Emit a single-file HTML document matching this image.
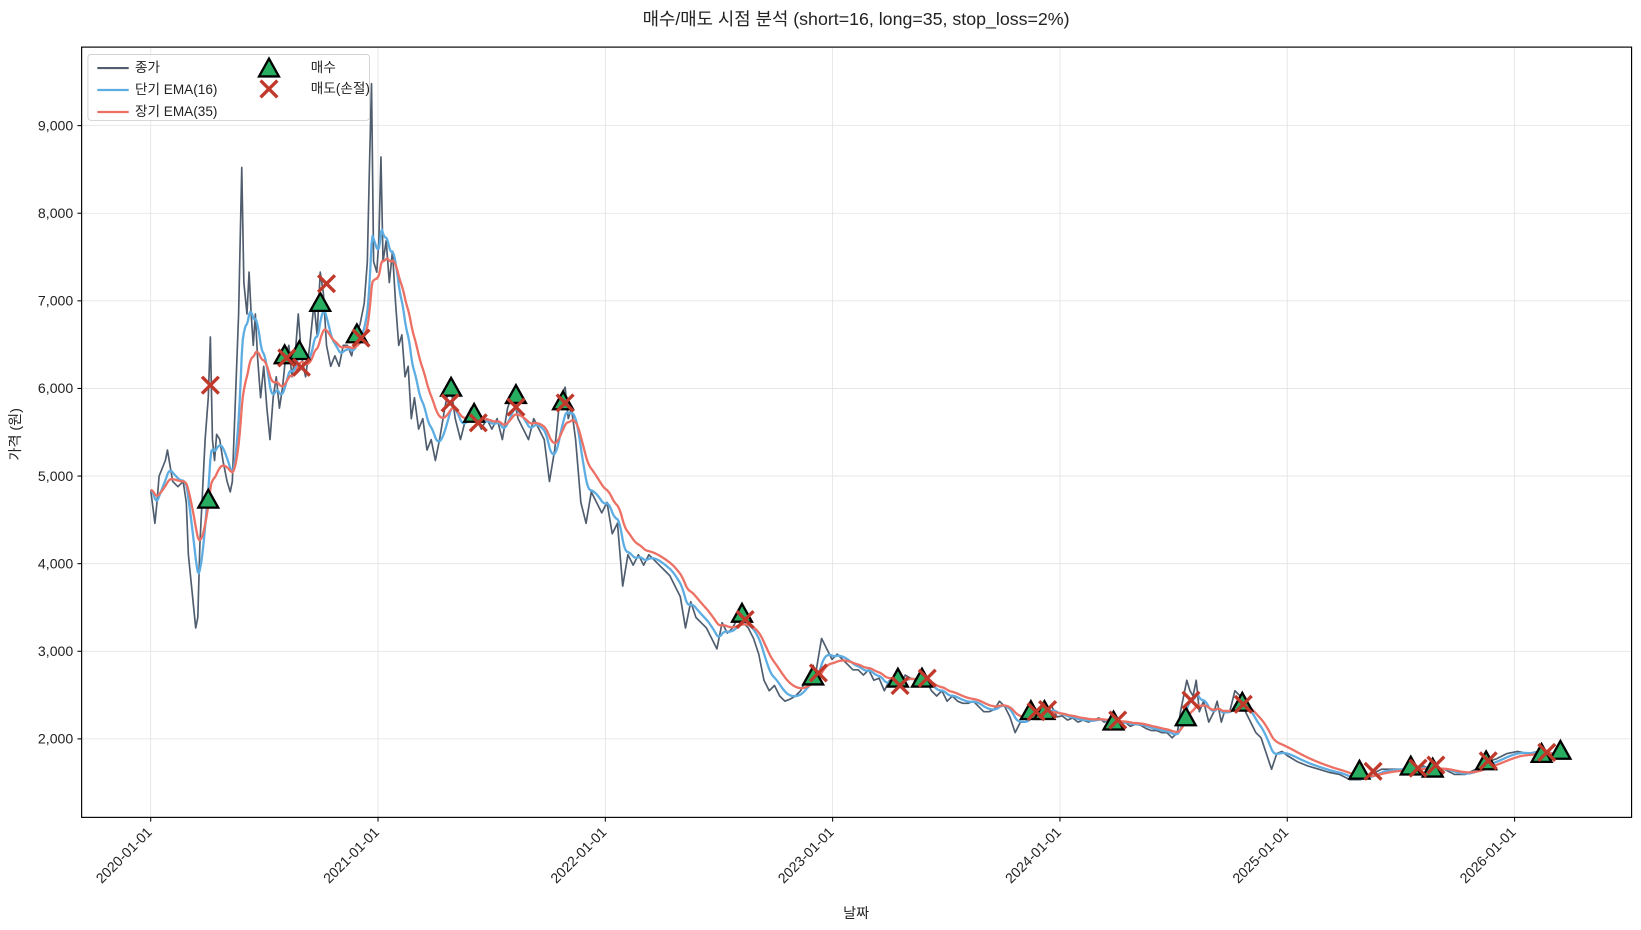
<!DOCTYPE html>
<html><head><meta charset="utf-8"><style>
html,body{margin:0;padding:0;background:#fff;}
svg{display:block;font-family:"Liberation Sans","Noto Sans CJK KR",sans-serif;}
</style></head><body>
<svg id="s" width="1641" height="930" viewBox="0 0 1568 888.6" xmlns="http://www.w3.org/2000/svg">
<rect width="1568" height="888.6" fill="#fff"/>
<g id="grid" stroke="#e3e3e3" stroke-width="0.8"></g>
<g id="series" fill="none" stroke-linejoin="round"></g>
<g id="marks"></g>
<rect x="78" y="45" width="1481" height="736" fill="none" stroke="#000" stroke-width="1.1"/>
<g id="ticks" font-size="13.5" fill="#222"></g>
<text x="818" y="24" text-anchor="middle" font-size="17" fill="#222">매수/매도 시점 분석 (short=16, long=35, stop_loss=2%)</text>
<text x="818" y="877" text-anchor="middle" font-size="13.5" fill="#222">날짜</text>
<text transform="translate(19,415) rotate(-90)" text-anchor="middle" font-size="13.5" fill="#222">가격 (원)</text>
<g>
<rect x="84" y="52" width="269" height="63" rx="3" fill="#fff" fill-opacity="0.85" stroke="#ccc" stroke-width="0.8"/>
<line x1="93" y1="65" x2="123" y2="65" stroke="#4f5d6e" stroke-width="2"/>
<text x="129" y="69" font-size="13" fill="#222">종가</text>
<line x1="93" y1="86" x2="123" y2="86" stroke="#5dade2" stroke-width="2.2"/>
<text x="129" y="90" font-size="13" fill="#222">단기 EMA(16)</text>
<line x1="93" y1="107" x2="123" y2="107" stroke="#ec7063" stroke-width="2.2"/>
<text x="129" y="111" font-size="13" fill="#222">장기 EMA(35)</text>
<text x="297" y="69" font-size="13" fill="#222">매수</text>
<text x="297" y="89" font-size="13" fill="#222">매도(손절)</text>
</g>
<g id="legm"></g>
</svg>
<script>
var NS="http://www.w3.org/2000/svg";
function el(p,t,a){var e=document.createElementNS(NS,t);for(var k in a)e.setAttribute(k,a[k]);if(p)document.getElementById(p).appendChild(e);return e;}
for(var v=2000;v<=9000;v+=1000){var y=706-(v-2000)*0.08371;
el("grid","line",{x1:78,x2:1559,y1:y,y2:y});
el("ticks","line",{x1:74,x2:78,y1:y,y2:y,stroke:"#000"});
var t=el("ticks","text",{x:70,y:y+4.5,"text-anchor":"end"});t.textContent=(v/1000)+",000";}
for(var i=0;i<7;i++){var x=144+i*217.2;
el("grid","line",{x1:x,x2:x,y1:45,y2:781});
el("ticks","line",{x1:x,x2:x,y1:781,y2:785,stroke:"#000"});
var t=el("ticks","text",{x:0,y:0,"text-anchor":"end",transform:"translate("+(x+2)+",796) rotate(-45)"});t.textContent=(2020+i)+"-01-01";}
var P=[144,468,148,500,150,480,152,455,158,440,160,430,165,460,170,465,175,460,178,480,180,530,183,560,185,580,187,600,189,590,191,520,193,480,196,420,199,380,201,322,203,420,205,440,207,415,210,420,213,440,217,460,220,470,222,460,225,380,228,300,231,160,233,270,236,300,238,260,240,300,242,330,244,300,246,340,249,380,252,350,255,390,258,420,261,380,264,360,267,390,270,370,273,340,276,330,279,360,282,340,285,300,288,340,292,360,296,330,300,290,303,320,306,260,309,280,312,330,316,350,320,340,324,350,328,330,332,330,336,340,340,320,344,310,348,290,351,250,353,160,355,80,357,250,360,260,362,230,364,150,366,250,369,230,372,270,375,240,378,290,381,330,384,320,387,360,390,350,393,400,396,380,400,410,404,400,408,430,412,420,416,440,420,420,425,390,430,365,435,400,440,420,445,400,450,390,455,400,460,410,465,400,470,410,475,400,480,420,485,390,490,375,495,400,500,410,505,420,510,400,515,410,520,420,525,460,530,430,535,380,540,370,543,400,546,390,550,420,555,480,560,500,565,470,570,480,575,490,580,480,585,510,590,500,595,560,600,530,605,540,610,530,615,540,620,530,625,535,630,540,635,545,640,550,645,560,650,570,655,600,660,575,665,590,670,595,675,600,680,610,685,620,690,595,695,605,700,600,705,590,710,595,715,600,720,610,725,625,730,650,735,660,740,655,745,665,750,670,755,668,760,665,765,660,770,650,775,645,780,640,785,610,790,620,795,630,800,625,805,630,810,635,815,640,820,640,825,645,830,640,835,650,840,648,845,660,850,650,855,650,860,655,865,645,870,648,875,650,880,655,885,650,890,660,895,665,900,660,905,670,910,665,915,670,920,672,925,672,930,670,935,675,940,680,945,680,950,678,955,670,960,675,965,685,970,700,975,690,980,690,985,680,990,678,995,682,1000,680,1005,675,1010,685,1015,684,1020,688,1025,686,1030,690,1035,688,1040,690,1045,688,1050,686,1055,690,1060,688,1065,690,1070,692,1075,690,1080,694,1085,692,1090,693,1095,696,1100,698,1105,698,1110,700,1115,700,1120,705,1125,700,1128,680,1130,670,1134,650,1137,660,1140,665,1143,650,1146,680,1150,670,1155,690,1160,680,1163,670,1167,690,1170,680,1175,680,1180,660,1185,665,1190,680,1195,690,1200,700,1205,705,1210,720,1215,735,1220,720,1225,718,1230,722,1235,725,1240,728,1245,730,1250,732,1260,735,1270,738,1280,740,1290,745,1300,745,1310,740,1320,735,1330,735,1340,735,1350,735,1360,732,1370,735,1380,735,1390,740,1400,740,1410,735,1420,728,1430,725,1440,720,1450,718,1460,720,1470,718,1480,720,1490,722];
var xs=[],ys=[];for(var i=0;i<P.length;i+=2){xs.push(P[i]);ys.push(P[i+1]);}
var rx=[],ry=[];for(var x=144;x<=1490;x+=1){var j=0;while(j<xs.length-2&&xs[j+1]<x)j++;var f=(x-xs[j])/(xs[j+1]-xs[j]);f=Math.max(0,Math.min(1,f));rx.push(x);ry.push(ys[j]+(ys[j+1]-ys[j])*f);}
function ema(n){var a=2/(n+1),o=[],e=ry[0];for(var i=0;i<ry.length;i++){e=a*ry[i]+(1-a)*e;o.push(e);}return o;}
function path(X,Y){var d="";for(var i=0;i<X.length;i++)d+=(i?"L":"M")+X[i].toFixed(1)+" "+Y[i].toFixed(1);return d;}
el("series","path",{d:path(xs,ys),stroke:"#4f5d6e","stroke-width":1.6});
el("series","path",{d:path(rx,ema(16)),stroke:"#5dade2","stroke-width":2.2});
el("series","path",{d:path(rx,ema(34)),stroke:"#ec7063","stroke-width":2.2});
function tri(g,x,y){el(g,"path",{d:"M"+x+" "+(y-10)+"L"+(x+9.5)+" "+(y+7)+"L"+(x-9.5)+" "+(y+7)+"Z",fill:"#27ae60",stroke:"#000","stroke-width":2.2,"stroke-linejoin":"miter"});}
function cross(g,x,y){el(g,"path",{d:"M"+(x-8)+" "+(y-8)+"L"+(x+8)+" "+(y+8)+"M"+(x+8)+" "+(y-8)+"L"+(x-8)+" "+(y+8),stroke:"#c0392b","stroke-width":3.2,fill:"none"});}
var B=[199,478,272,340,286,336,306,290,341,320,431,371,453,396,493,378,538,384,709,587,777,647,858,649,881,649,985,680,998,680,1064,690,1133,686,1187,672,1299,737,1348,733,1369,735,1420,728,1473,721,1491,718];
var S=[201,368,274,342,288,351,312,271,345,323,430,385,457,404,493,389,540,385,712,592,782,643,860,655,886,648,990,680,1001,678,1068,688,1138,669,1188,673,1312,737,1355,734,1372,731,1422,727,1478,719];
for(var i=0;i<B.length;i+=2)tri("marks",B[i],B[i+1]);
for(var i=0;i<S.length;i+=2)cross("marks",S[i],S[i+1]);
tri("legm",257,66);cross("legm",257,85);
</script>
</body></html>
